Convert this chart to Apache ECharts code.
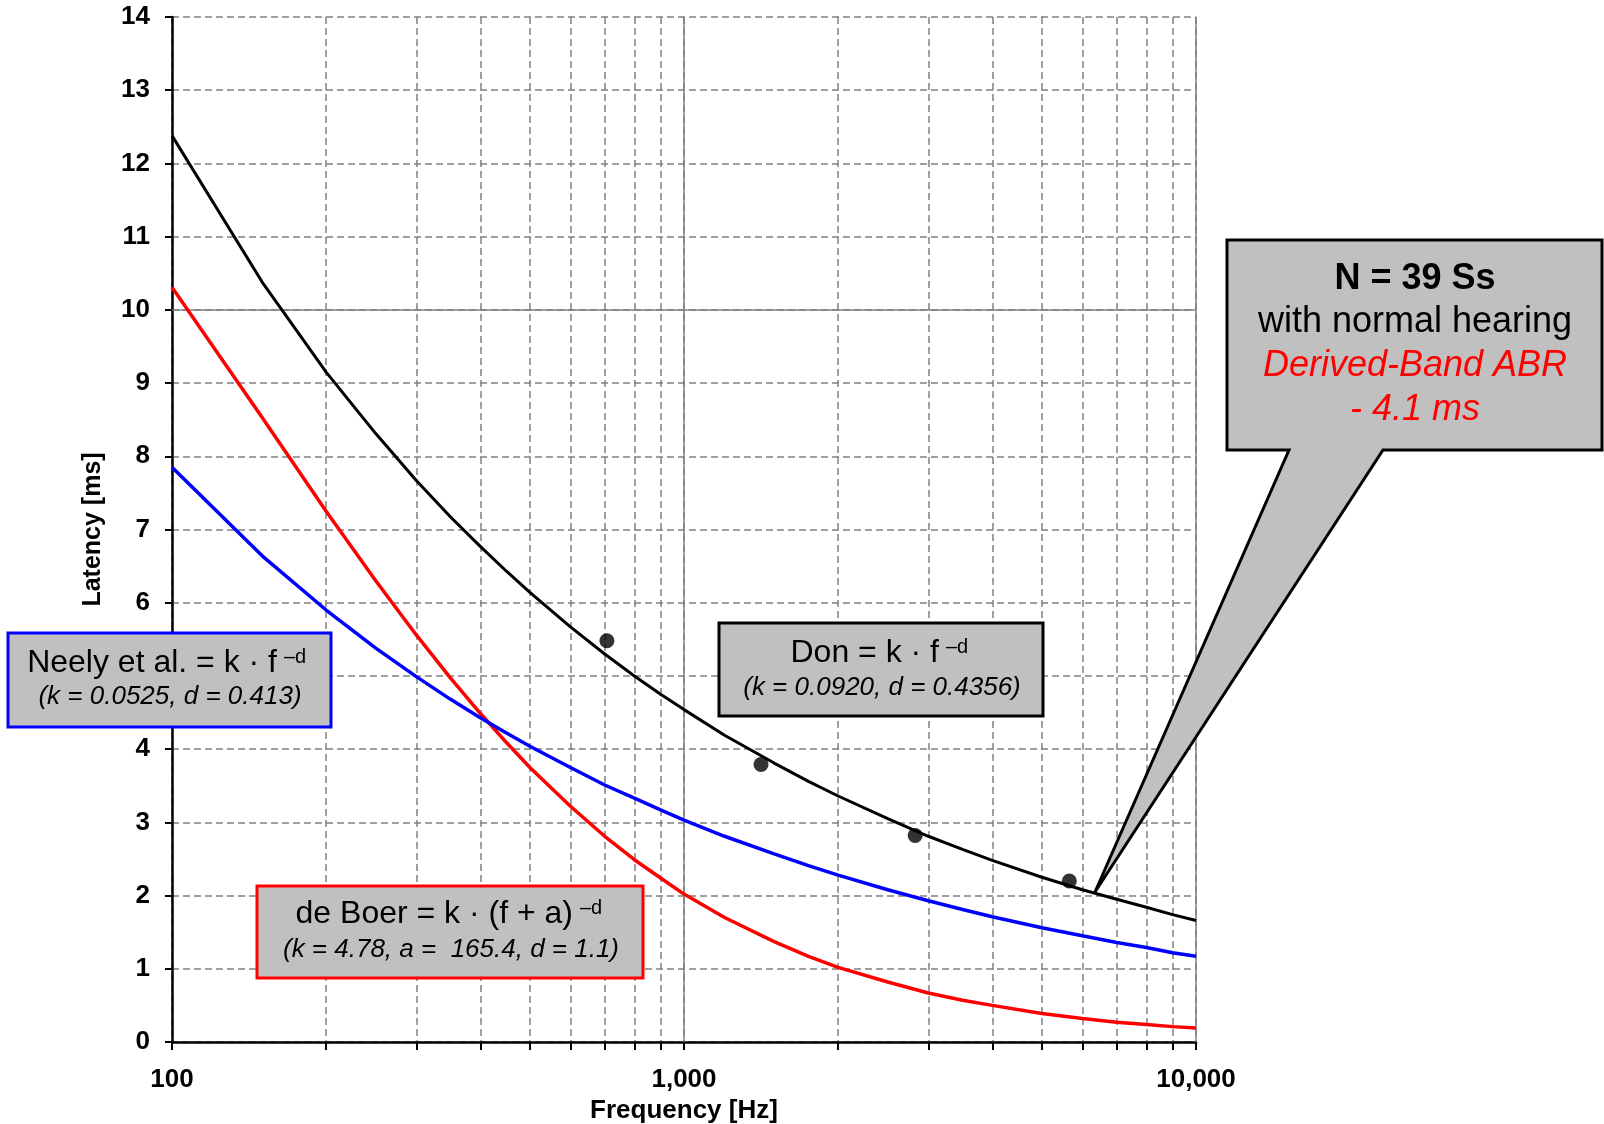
<!DOCTYPE html>
<html>
<head>
<meta charset="utf-8">
<title>Latency vs Frequency</title>
<script src="https://cdn.jsdelivr.net/npm/echarts@6/dist/echarts.min.js"></script>
<style>
  html, body { margin: 0; padding: 0; background: #fff; }
  #latencyChart { width: 1604px; height: 1124px; }
</style>
</head>
<body>
<div id="latencyChart"></div>
<script>
var freqs = [100, 150, 200, 250, 300, 350, 400, 450, 500, 600, 700, 800, 900, 1000, 1200, 1500, 1750, 2000, 2500, 3000, 3500, 4000, 5000, 6000, 7000, 8000, 9000, 10000];
// latency [ms] of each model at those frequencies
var donLatency = [12.38, 10.38, 9.15, 8.31, 7.67, 7.17, 6.77, 6.43, 6.14, 5.67, 5.30, 5.00, 4.75, 4.54, 4.19, 3.81, 3.56, 3.36, 3.05, 2.81, 2.63, 2.48, 2.25, 2.08, 1.95, 1.84, 1.74, 1.66];
var neelyLatency = [7.85, 6.64, 5.90, 5.38, 4.99, 4.68, 4.43, 4.22, 4.04, 3.75, 3.51, 3.33, 3.17, 3.03, 2.81, 2.57, 2.41, 2.28, 2.08, 1.93, 1.81, 1.71, 1.56, 1.45, 1.36, 1.29, 1.22, 1.17];
var deBoerLatency = [10.31, 8.53, 7.25, 6.30, 5.56, 4.97, 4.49, 4.09, 3.75, 3.22, 2.81, 2.49, 2.24, 2.02, 1.70, 1.37, 1.17, 1.02, 0.82, 0.67, 0.57, 0.50, 0.39, 0.32, 0.27, 0.24, 0.21, 0.19];
// measured derived-band ABR points
var bandFreqs = [707, 1414, 2828, 5657];
var bandLatency = [5.48, 3.79, 2.82, 2.20];
// axis ticks
var xTickValues = [100, 200, 300, 400, 500, 600, 700, 800, 900, 1000, 2000, 3000, 4000, 5000, 6000, 7000, 8000, 9000, 10000];
var xLabelValues = [100, 1000, 10000];
var xLabelText = ['100', '1,000', '10,000'];
var yMin = 0, yMax = 14, yStep = 1;
var solidGridY = [10];
var solidGridX = [1000, 10000];

var fontFamily = '"Liberation Sans", Arial, Helvetica, sans-serif';
var gridGray = '#808080';

function pairs(xs, ys) {
  var out = [];
  for (var i = 0; i < xs.length; i++) {
    out.push([xs[i], ys[i]]);
  }
  return out;
}

function curveSeries(name, values, color, width) {
  return {
    name: name,
    type: 'line',
    data: pairs(freqs, values),
    showSymbol: false,
    smooth: false,
    lineStyle: { color: color, width: width },
    z: 3
  };
}

// solid (major) gridlines drawn as marklines
var majorLines = [];
for (var i = 0; i < solidGridY.length; i++) majorLines.push({ yAxis: solidGridY[i] });
for (var j = 0; j < solidGridX.length; j++) majorLines.push({ xAxis: solidGridX[j] });

// one formula box: rect + main line + superscript + parameter line
function formulaBox(box) {
  return [{
    type: 'rect',
    shape: { x: box.x, y: box.y, width: box.w, height: box.h },
    style: { fill: '#c0c0c0', stroke: box.border, lineWidth: 3 },
    z: 100
  }, {
    type: 'text',
    x: box.mainRight, y: box.mainY,
    style: { text: box.main, font: '32px ' + fontFamily, fill: '#000', align: 'right', verticalAlign: 'middle' },
    z: 101
  }, {
    type: 'text',
    x: box.mainRight + 7, y: box.supY,
    style: { text: '\u2013d', font: '20px ' + fontFamily, fill: '#000', align: 'left', verticalAlign: 'middle' },
    z: 101
  }, {
    type: 'text',
    x: box.subX, y: box.subY,
    style: { text: box.sub, font: 'italic 26px ' + fontFamily, fill: '#000', align: 'center', verticalAlign: 'middle' },
    z: 101
  }];
}

var graphics = [];
graphics = graphics.concat(formulaBox({
  x: 8, y: 633, w: 323, h: 94, border: '#0000ff',
  main: 'Neely et al. = k \u00b7 f', mainRight: 277, mainY: 663, supY: 657,
  sub: '(k = 0.0525, d = 0.413)', subX: 170, subY: 697
}));
graphics = graphics.concat(formulaBox({
  x: 719, y: 623, w: 324, h: 93, border: '#000000',
  main: 'Don = k \u00b7 f', mainRight: 939, mainY: 653, supY: 647,
  sub: '(k = 0.0920, d = 0.4356)', subX: 882, subY: 688
}));
graphics = graphics.concat(formulaBox({
  x: 257, y: 886, w: 386, h: 92, border: '#ff0000',
  main: 'de Boer = k \u00b7 (f + a)', mainRight: 573, mainY: 914, supY: 908,
  sub: '(k = 4.78, a =  165.4, d = 1.1)', subX: 451, subY: 950
}));

// callout box with pointer
graphics.push({
  type: 'polygon',
  shape: { points: [[1227, 240], [1602, 240], [1602, 450], [1383, 450], [1095, 892], [1289, 450], [1227, 450]] },
  style: { fill: '#c0c0c0', stroke: '#000', lineWidth: 3, lineJoin: 'miter' },
  z: 100
});
var calloutLines = [
  { text: 'N = 39 Ss', font: 'bold 36px ', color: '#000', y: 279 },
  { text: 'with normal hearing', font: '36px ', color: '#000', y: 322 },
  { text: 'Derived-Band ABR', font: 'italic 36px ', color: '#ff0000', y: 366 },
  { text: '- 4.1 ms', font: 'italic 36px ', color: '#ff0000', y: 410 }
];
for (var k = 0; k < calloutLines.length; k++) {
  graphics.push({
    type: 'text',
    x: 1415, y: calloutLines[k].y,
    style: { text: calloutLines[k].text, font: calloutLines[k].font + fontFamily, fill: calloutLines[k].color, align: 'center', verticalAlign: 'middle' },
    z: 101
  });
}

var myChart = echarts.init(document.getElementById('latencyChart'), null, { renderer: 'canvas' });
var option = {
  animation: false,
  backgroundColor: '#fff',
  grid: { left: 172, top: 17, width: 1024, height: 1025, containLabel: false, outerBoundsMode: 'none' },
  xAxis: {
    type: 'log',
    logBase: 10,
    min: 100,
    max: 10000,
    name: 'Frequency [Hz]',
    nameLocation: 'middle',
    nameGap: 53,
    nameTextStyle: { fontSize: 26, fontWeight: 'bold', color: '#000', fontFamily: fontFamily },
    axisLine: { show: true, lineStyle: { color: '#000', width: 2.5 } },
    axisTick: { show: true, length: 8, inside: false, lineStyle: { color: '#000', width: 2 }, customValues: xTickValues },
    axisLabel: {
      customValues: xLabelValues,
      margin: 25,
      fontSize: 26,
      fontWeight: 'bold',
      color: '#000',
      fontFamily: fontFamily,
      formatter: function(v) {
        var idx = xLabelValues.indexOf(Math.round(v));
        return idx >= 0 ? xLabelText[idx] : '';
      }
    },
    splitLine: { show: true, lineStyle: { color: gridGray, width: 1.5, type: [7, 4] } },
    minorTick: { show: false },
    minorSplitLine: { show: false }
  },
  yAxis: {
    type: 'value',
    min: yMin,
    max: yMax,
    interval: yStep,
    name: 'Latency [ms]',
    nameLocation: 'middle',
    nameGap: 66,
    nameTextStyle: { fontSize: 25, fontWeight: 'bold', color: '#000', fontFamily: fontFamily },
    axisLine: { show: true, lineStyle: { color: '#000', width: 2.5 } },
    axisTick: { show: true, length: 7, inside: false, lineStyle: { color: '#000', width: 2 } },
    axisLabel: { fontSize: 26, fontWeight: 'bold', color: '#000', margin: 22, fontFamily: fontFamily },
    splitLine: { show: true, lineStyle: { color: gridGray, width: 1.5, type: [7, 4] } }
  },
  series: [
    {
      name: 'grid',
      type: 'line',
      data: [],
      silent: true,
      markLine: {
        silent: true,
        symbol: 'none',
        z: 1,
        label: { show: false },
        lineStyle: { color: gridGray, width: 1.5, type: 'solid' },
        data: majorLines
      }
    },
    curveSeries('de Boer', deBoerLatency, '#ff0000', 3.5),
    curveSeries('Neely et al.', neelyLatency, '#0000ff', 3.5),
    curveSeries('Don', donLatency, '#000000', 3),
    {
      name: 'Derived-Band ABR',
      type: 'scatter',
      data: pairs(bandFreqs, bandLatency),
      symbol: 'circle',
      symbolSize: 15,
      itemStyle: { color: '#000' },
      z: 4
    }
  ],
  graphic: graphics
};
myChart.setOption(option);
</script>
</body>
</html>
